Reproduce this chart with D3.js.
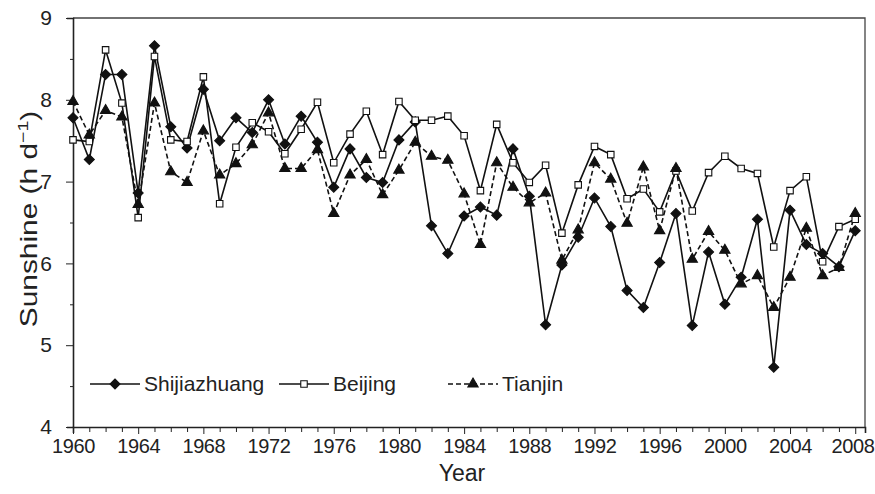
<!DOCTYPE html>
<html>
<head>
<meta charset="utf-8">
<script src="https://cdn.jsdelivr.net/npm/d3@7"></script>
<style>
  body { margin: 0; background: #fff; }
  svg text { font-family: "Liberation Sans", Arial, sans-serif; fill: #222; }
</style>
</head>
<body>
<div id="corpo"></div>
<script>
// sunshine hours per day, 1960-2008
var years = d3.range(1960, 2009);
var shijiazhuang = [7.78, 7.27, 8.31, 8.31, 6.86, 8.66, 7.67, 7.41, 8.13, 7.50,
                    7.78, 7.60, 8.00, 7.46, 7.80, 7.48, 6.93, 7.40, 7.05, 6.99,
                    7.51, 7.73, 6.46, 6.12, 6.58, 6.69, 6.59, 7.40, 6.82, 5.25,
                    5.98, 6.32, 6.80, 6.45, 5.67, 5.46, 6.01, 6.61, 5.24, 6.14,
                    5.50, 5.83, 6.54, 4.73, 6.65, 6.23, 6.12, 5.96, 6.40];
var beijing = [7.51, 7.49, 8.61, 7.96, 6.56, 8.53, 7.51, 7.49, 8.28, 6.73,
               7.42, 7.72, 7.61, 7.34, 7.64, 7.97, 7.23, 7.58, 7.86, 7.33,
               7.98, 7.75, 7.75, 7.80, 7.56, 6.89, 7.70, 7.23, 6.99, 7.20,
               6.37, 6.96, 7.43, 7.33, 6.79, 6.91, 6.63, 7.13, 6.64, 7.11,
               7.31, 7.16, 7.10, 6.20, 6.89, 7.06, 6.02, 6.45, 6.54];
var tianjin = [7.98, 7.57, 7.87, 7.79, 6.72, 7.96, 7.12, 6.99, 7.62, 7.08,
               7.22, 7.45, 7.84, 7.16, 7.16, 7.39, 6.61, 7.08, 7.27, 6.84,
               7.14, 7.48, 7.31, 7.26, 6.85, 6.23, 7.23, 6.93, 6.74, 6.86,
               6.04, 6.41, 7.23, 7.03, 6.49, 7.18, 6.40, 7.16, 6.05, 6.39,
               6.16, 5.75, 5.85, 5.46, 5.83, 6.43, 5.85, 5.95, 6.61];
var yTicks = [4, 5, 6, 7, 8, 9];
var xLabels = d3.range(1960, 2009, 4);

// diamond = square turned 45 degrees
var series = [
    {name: "Shijiazhuang", values: shijiazhuang, symbol: d3.symbolSquare, size: 50, rot: 45, fill: "#111", dash: null},
    {name: "Beijing", values: beijing, symbol: d3.symbolSquare, size: 42, rot: 0, fill: "#fff", dash: null},
    {name: "Tianjin", values: tianjin, symbol: d3.symbolTriangle, size: 46, rot: 0, fill: "#111", dash: "5,3"}
];

var width = 875, height = 494;
var x = d3.scaleLinear().domain([1960, 2008.6]).range([73, 865]);
var y = d3.scaleLinear().domain([4, 9]).range([427, 18]);

var svg = d3.select("#corpo").append("svg")
    .attr("width", width)
    .attr("height", height);

// frame (top and right)
svg.append("path")
    .attr("d", "M" + x(1960) + "," + y(9) + "H" + x(2008.6) + "V" + y(4))
    .attr("fill", "none")
    .attr("stroke", "#444")
    .attr("stroke-width", 1.3);

// y axis
var yAxis = svg.append("g")
    .attr("transform", "translate(" + x(1960) + ",0)")
    .call(d3.axisLeft(y).tickValues(d3.range(4, 9.01, 0.5)).tickSize(6).tickFormat(function(d) {
        return yTicks.indexOf(d) >= 0 ? d : "";
    }));
yAxis.selectAll(".tick line")
    .attr("x2", function(d) { return yTicks.indexOf(d) >= 0 ? -7 : -3; });
yAxis.selectAll("text").style("font-size", "21px").attr("x", -21);

// x axis
var xAxis = svg.append("g")
    .attr("transform", "translate(0," + y(4) + ")")
    .call(d3.axisBottom(x).tickValues(years).tickSize(6).tickFormat(function(d) {
        return xLabels.indexOf(d) >= 0 ? d : "";
    }));
xAxis.selectAll("text").style("font-size", "20px").style("letter-spacing", "-0.4px").attr("y", 12);
// last label sits flush with the right edge
xAxis.selectAll("text").filter(function(d) { return d === 2008; })
    .attr("text-anchor", "end")
    .attr("x", width - 1 - x(2008));
xAxis.selectAll(".tick line").attr("y2", function(d) { return xLabels.indexOf(d) >= 0 ? 7 : 5; });

svg.selectAll(".domain").attr("stroke", "#222").attr("stroke-width", 1.6);
svg.selectAll(".tick line").attr("stroke", "#222");

// axis titles
svg.append("text")
    .attr("x", 462).attr("y", 481)
    .attr("text-anchor", "middle")
    .style("font-size", "23px")
    .text("Year");

var yTitle = svg.append("text")
    .attr("transform", "translate(37,219) scale(1,1.3) rotate(-90)")
    .attr("text-anchor", "middle")
    .style("font-size", "23px");
yTitle.append("tspan").text("Sunshine (h d");
yTitle.append("tspan").attr("dy", -9).style("font-size", "15px").text("\u22121");
yTitle.append("tspan").attr("dy", 9).text(")");

// lines and markers
var line = d3.line()
    .x(function(d, i) { return x(years[i]); })
    .y(function(d) { return y(d); });

series.forEach(function(s) {
    svg.append("path")
        .datum(s.values)
        .attr("d", line)
        .attr("fill", "none")
        .attr("stroke", "#111")
        .attr("stroke-width", 1.6)
        .attr("stroke-dasharray", s.dash);
});

series.forEach(function(s) {
    svg.append("g").selectAll("path")
        .data(s.values)
        .enter().append("path")
        .attr("transform", function(d, i) {
            return "translate(" + x(years[i]) + "," + y(d) + ") rotate(" + s.rot + ")";
        })
        .attr("d", d3.symbol().type(s.symbol).size(s.size))
        .attr("fill", s.fill)
        .attr("stroke", "#111")
        .attr("stroke-width", 1.1);
});

// legend
var legendX = [90, 279, 448];
var legend = svg.append("g");
series.forEach(function(s, i) {
    var g = legend.append("g").attr("transform", "translate(" + legendX[i] + ",384)");
    g.append("line")
        .attr("x1", 0).attr("x2", 50)
        .attr("stroke", "#111").attr("stroke-width", 1.6)
        .attr("stroke-dasharray", s.dash);
    g.append("path")
        .attr("transform", "translate(25,0) rotate(" + s.rot + ")")
        .attr("d", d3.symbol().type(s.symbol).size(s.size))
        .attr("fill", s.fill)
        .attr("stroke", "#111")
        .attr("stroke-width", 1.1);
    g.append("text")
        .attr("x", 54).attr("y", 7)
        .style("font-size", "21px")
        .text(s.name);
});
</script>
</body>
</html>
